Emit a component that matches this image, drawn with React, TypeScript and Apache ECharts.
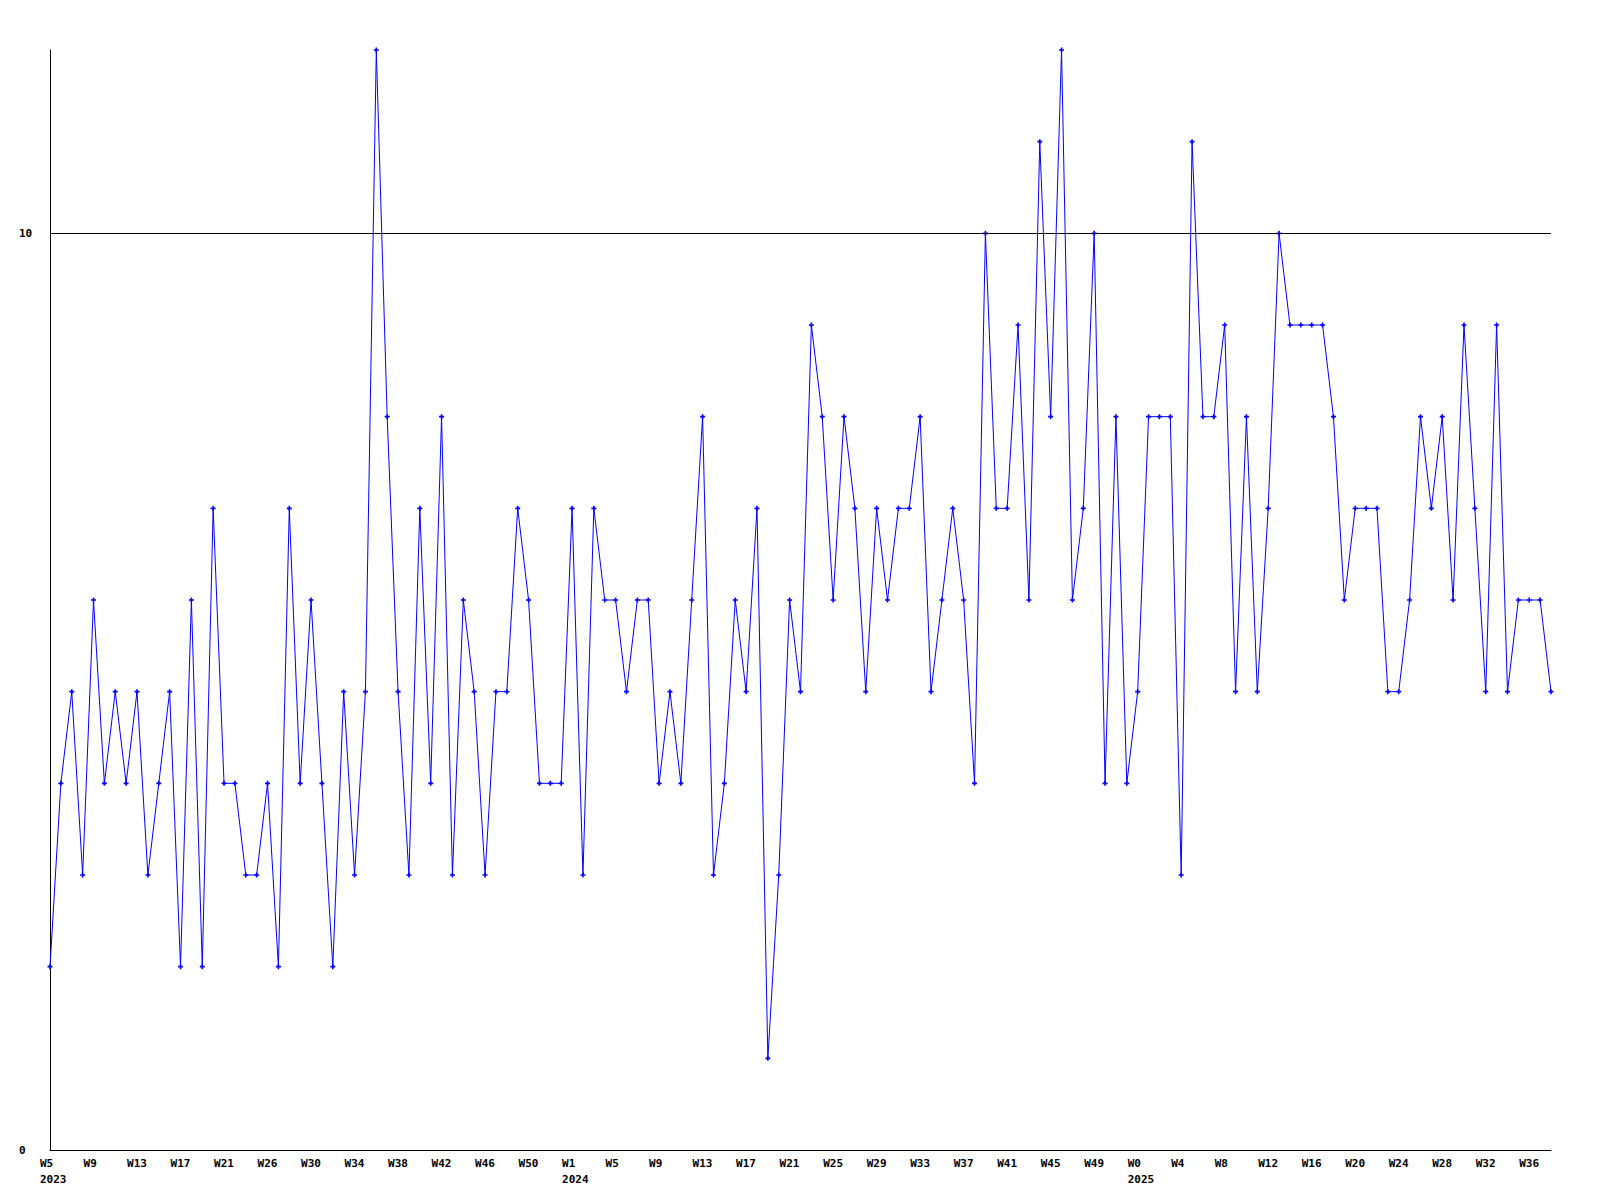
import React, { useEffect, useRef } from "react";
import * as echarts from "echarts";

// Week categories (year-week), one per data point
const weeks2023: string[] = [
  "W5", "W6", "W7", "W8", "W9", "W10", "W11", "W12", "W13", "W14", "W15", "W16",
  "W17", "W18", "W19", "W20", "W21", "W22", "W23", "W24", "W26", "W27", "W28", "W29",
  "W30", "W31", "W32", "W33", "W34", "W35", "W36", "W37", "W38", "W39", "W40", "W41",
  "W42", "W43", "W44", "W45", "W46", "W47", "W48", "W49", "W50", "W51", "W52", "W53",
];
const weeks2024: string[] = [
  "W1", "W2", "W3", "W4", "W5", "W6", "W7", "W8", "W9", "W10", "W11", "W12",
  "W13", "W14", "W15", "W16", "W17", "W18", "W19", "W20", "W21", "W22", "W23", "W24",
  "W25", "W26", "W27", "W28", "W29", "W30", "W31", "W32", "W33", "W34", "W35", "W36",
  "W37", "W38", "W39", "W40", "W41", "W42", "W43", "W44", "W45", "W46", "W47", "W48",
  "W49", "W50", "W51", "W52",
];
const weeks2025: string[] = [
  "W0", "W1", "W2", "W3", "W4", "W5", "W6", "W7", "W8", "W9", "W10", "W11",
  "W12", "W13", "W14", "W15", "W16", "W17", "W18", "W19", "W20", "W21", "W22", "W23",
  "W24", "W25", "W26", "W27", "W28", "W29", "W30", "W31", "W32", "W33", "W34", "W35",
  "W36", "W37", "W38",
];

const values2023: number[] = [
  2, 4, 5, 3, 6, 4, 5, 4, 5, 3, 4, 5,
  2, 6, 2, 7, 4, 4, 3, 3, 4, 2, 7, 4,
  6, 4, 2, 5, 3, 5, 12, 8, 5, 3, 7, 4,
  8, 3, 6, 5, 3, 5, 5, 7, 6, 4, 4, 4,
];
const values2024: number[] = [
  7, 3, 7, 6, 6, 5, 6, 6, 4, 5, 4, 6,
  8, 3, 4, 6, 5, 7, 1, 3, 6, 5, 9, 8,
  6, 8, 7, 5, 7, 6, 7, 7, 8, 5, 6, 7,
  6, 4, 10, 7, 7, 9, 6, 11, 8, 12, 6, 7,
  10, 4, 8, 4,
];
const values2025: number[] = [
  5, 8, 8, 8, 3, 11, 8, 8, 9, 5, 8, 5,
  7, 10, 9, 9, 9, 9, 8, 6, 7, 7, 7, 5,
  5, 6, 8, 7, 8, 6, 9, 7, 5, 9, 5, 6,
  6, 6, 5,
];

const referenceLine = 10;
const yMin = 0;
const yMax = 12;

const categories: string[] = [
  ...weeks2023.map((w) => "2023-" + w),
  ...weeks2024.map((w) => "2024-" + w),
  ...weeks2025.map((w) => "2025-" + w),
];
const values: number[] = [...values2023, ...values2024, ...values2025];

const FONT = "'DejaVu Sans Mono', 'Liberation Mono', monospace";

const labelText = {
  width: 20,
  align: "left",
  color: "#000000",
  fontFamily: FONT,
  fontSize: 11,
  fontWeight: "bold",
  lineHeight: 16,
};

export default function App() {
  const ref = useRef<HTMLDivElement>(null);

  useEffect(() => {
    if (!ref.current) return;
    const chart = echarts.init(ref.current, null, { renderer: "svg" });
    chart.setOption({
      animation: false,
      backgroundColor: "#ffffff",
      grid: { left: 50, right: 49, top: 50, bottom: 50, containLabel: false },
      xAxis: {
        type: "category",
        data: categories,
        boundaryGap: false,
        axisLine: { show: true, lineStyle: { color: "#000000", width: 1 } },
        axisTick: { show: false },
        splitLine: { show: false },
        axisLabel: {
          interval: 3,
          margin: 5,
          align: "center",
          color: "#000000",
          fontFamily: FONT,
          fontSize: 11,
          fontWeight: "bold",
          lineHeight: 16,
          rich: { t: labelText },
          formatter: (val: string, idx: number) => {
            const [yr, wk] = val.split("-");
            const prev = idx >= 4 ? categories[idx - 4].split("-")[0] : null;
            return prev !== yr ? "{t|" + wk + "}\n{t|" + yr + "}" : "{t|" + wk + "}";
          },
        },
      },
      yAxis: {
        type: "value",
        min: yMin,
        max: yMax,
        interval: 10,
        axisLine: { show: true, lineStyle: { color: "#000000", width: 1 } },
        axisTick: { show: false },
        splitLine: { show: false },
        axisLabel: {
          showMaxLabel: false,
          align: "left",
          margin: 31,
          color: "#000000",
          fontFamily: FONT,
          fontSize: 11,
          fontWeight: "bold",
          formatter: (v: number) => (v === yMax ? "" : String(v)),
        },
      },
      series: [
        {
          type: "line",
          data: values,
          symbol:
            "path://M1.7,0L3.3,0L3.3,1.7L5,1.7L5,3.3L3.3,3.3L3.3,5L1.7,5L1.7,3.3L0,3.3L0,1.7L1.7,1.7Z",
          symbolSize: 5,
          showAllSymbol: true,
          itemStyle: { color: "#0000ff" },
          lineStyle: { color: "#0000ff", width: 1 },
          markLine: {
            silent: true,
            symbol: "none",
            label: { show: false },
            lineStyle: { color: "#000000", width: 1, type: "solid" },
            data: [{ yAxis: referenceLine }],
          },
        },
      ],
    });
    return () => chart.dispose();
  }, []);

  return (
    <div
      ref={ref}
      style={{ position: "absolute", left: 0, top: 0, width: 1600, height: 1200, background: "#fff" }}
    />
  );
}
